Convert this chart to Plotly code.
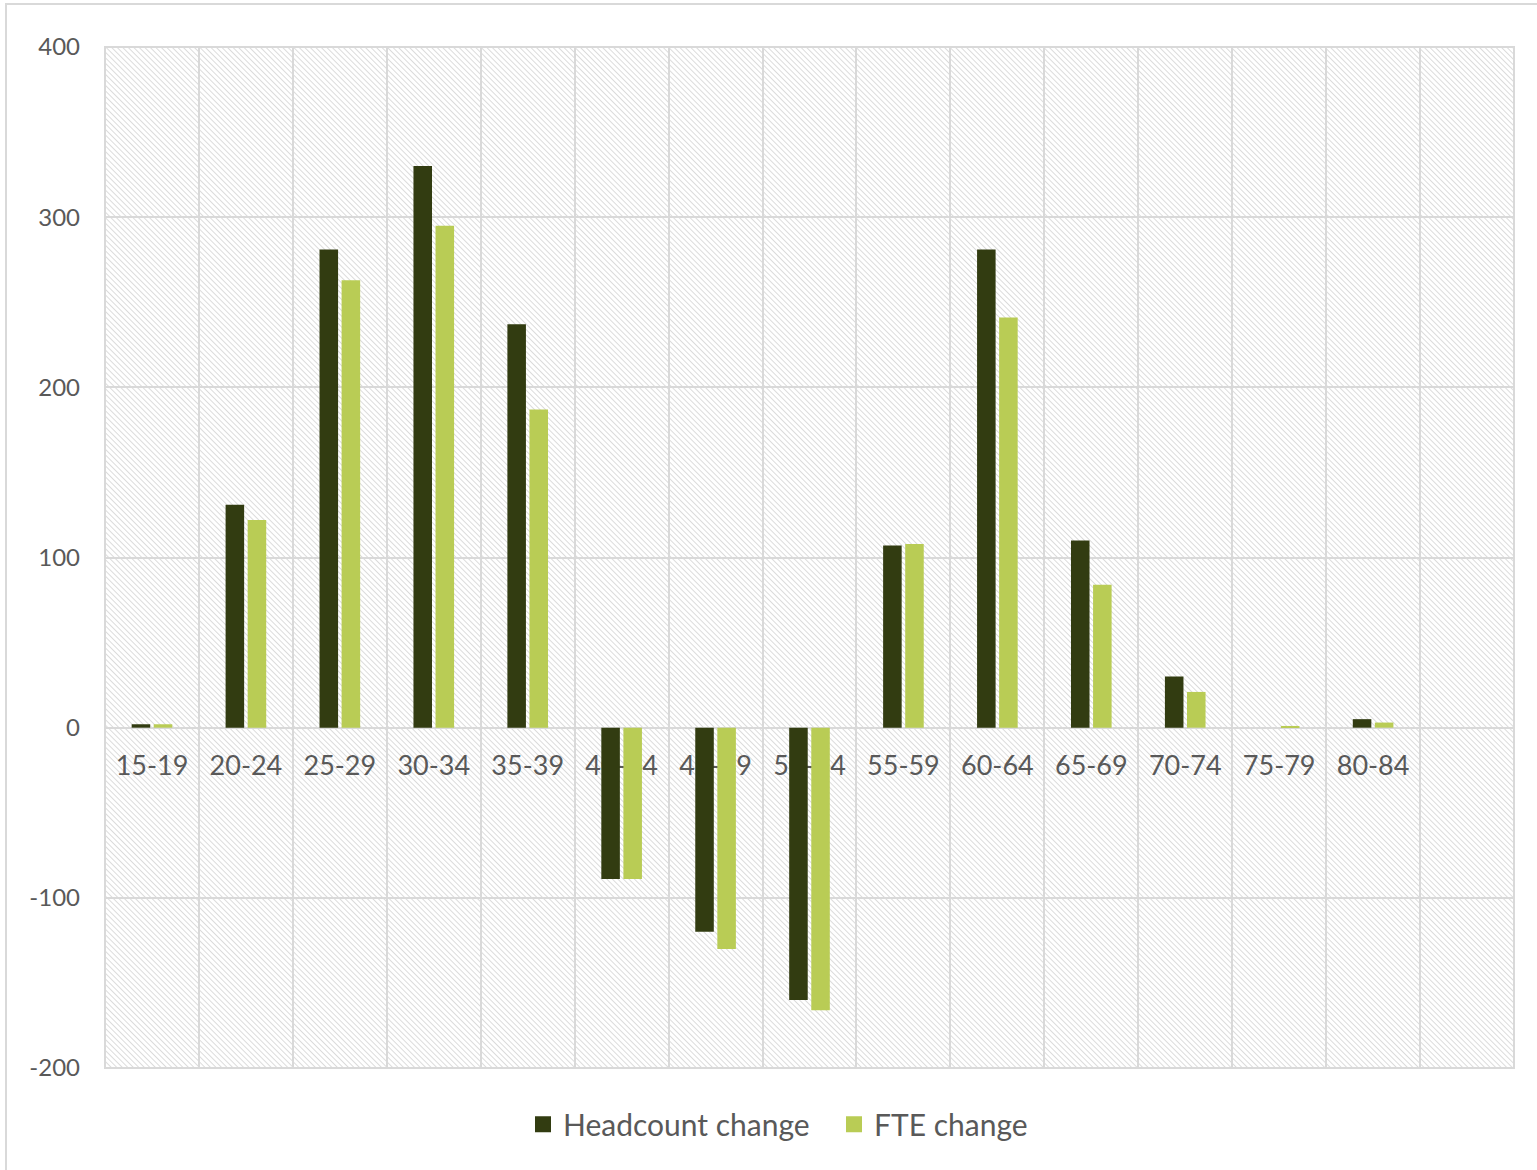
import base64
import plotly.graph_objects as go

# Age bands (the last band is an empty slot at the right of the chart)
age_groups = ["15-19", "20-24", "25-29", "30-34", "35-39", "40-44", "45-49",
              "50-54", "55-59", "60-64", "65-69", "70-74", "75-79", "80-84", " "]
headcount_change = [2, 131, 281, 330, 237, -89, -120, -160, 107, 281, 110, 30, 0, 5, None]
fte_change = [2, 122, 263, 295, 187, -89, -130, -166, 108, 241, 84, 21, 1, 3, None]
y_ticks = [-200, -100, 0, 100, 200, 300, 400]
y_tick_labels = ["-200", "-100", "0", "100", "200", "300", "400"]

DARK = "#323c11"
LIGHT = "#b9cc55"
GRID = "#d9d9d9"
TEXT = "#595959"
FONT = "Lato, 'Open Sans', sans-serif"

W, H = 1537, 1170
ML, MR, MT, MB = 105, 23, 47, 102
PW, PH = W - ML - MR, H - MT - MB

# Diagonal hatch used as the plot-area background
hatch_svg = f"""<svg xmlns='http://www.w3.org/2000/svg' width='{PW}' height='{PH}' viewBox='0 0 {PW} {PH}' preserveAspectRatio='none'>
<defs><pattern id='h' width='3.9' height='3.9' patternUnits='userSpaceOnUse' patternTransform='rotate(-45)'>
<rect width='3.9' height='3.9' fill='white'/>
<line x1='0' y1='0' x2='0' y2='3.9' stroke='#d6d6d6' stroke-width='1.7'/></pattern></defs>
<rect width='100%' height='100%' fill='url(#h)'/></svg>"""
hatch_uri = "data:image/svg+xml;base64," + base64.b64encode(hatch_svg.encode()).decode()

fig = go.Figure()
fig.add_trace(go.Bar(x=age_groups, y=headcount_change, name="Headcount change",
                     marker=dict(color=DARK, line=dict(width=0)), showlegend=False))
fig.add_trace(go.Bar(x=age_groups, y=fte_change, name="FTE change",
                     marker=dict(color=LIGHT, line=dict(width=0)), showlegend=False))

# Legend entries with larger square swatches, one legend box each
for name, col, lg in [("Headcount change", DARK, "legend"), ("FTE change", LIGHT, "legend2")]:
    fig.add_trace(go.Scatter(x=[None], y=[None], mode="markers", name=name, legend=lg,
                             marker=dict(symbol="square", size=16, color=col)))

ymin, ymax = y_ticks[0], y_ticks[-1]
zero_pos = (0 - ymin) / (ymax - ymin)

legend_common = dict(orientation="h", y=-0.055, yanchor="middle", xanchor="left",
                     font=dict(size=30, color=TEXT), itemwidth=30,
                     bgcolor="rgba(0,0,0,0)")

fig.update_layout(
    width=W, height=H,
    margin=dict(l=ML, r=MR, t=MT, b=MB, pad=0),
    paper_bgcolor="white", plot_bgcolor="white",
    barmode="group", bargap=0.53, bargroupgap=0.16,
    font=dict(family=FONT, color=TEXT),
    showlegend=True,
    legend=dict(x=(523 - ML) / PW, **legend_common),
    legend2=dict(x=(834 - ML) / PW, **legend_common),
    xaxis=dict(type="category", range=[-0.5, len(age_groups) - 0.5],
               anchor="free", position=zero_pos,
               tickson="boundaries", showgrid=True, gridcolor=GRID, gridwidth=1.5,
               showline=False, ticks="", ticklabelstandoff=19,
               tickfont=dict(size=27, color=TEXT), layer="below traces",
               fixedrange=True),
    yaxis=dict(range=[ymin, ymax], tickvals=y_ticks, ticktext=y_tick_labels,
               showgrid=True, gridcolor=GRID, gridwidth=1.5, zeroline=True,
               zerolinecolor=GRID, zerolinewidth=1.5, showline=False, ticks="",
               ticklabelstandoff=24, tickfont=dict(size=24, color=TEXT),
               domain=[0, 1]),
    images=[dict(source=hatch_uri, xref="paper", yref="paper", x=0, y=1,
                 sizex=1, sizey=1, xanchor="left", yanchor="top",
                 sizing="stretch", layer="below")],
    shapes=[
        # plot-area frame
        dict(type="rect", xref="paper", yref="paper", x0=0, y0=0, x1=1, y1=1,
             line=dict(color=GRID, width=2), layer="above"),
        # chart frame (top and left edges)
        dict(type="line", xref="paper", yref="paper",
             x0=(5 - ML) / PW, x1=(W + 10 - ML) / PW,
             y0=(PH + MT - 4) / PH, y1=(PH + MT - 4) / PH,
             line=dict(color="#d9d9d9", width=2)),
        dict(type="line", xref="paper", yref="paper",
             x0=(6 - ML) / PW, x1=(6 - ML) / PW,
             y0=(PH + MT - 4) / PH, y1=-(MB + 10) / PH,
             line=dict(color="#d9d9d9", width=2)),
    ],
)

fig.write_html("out.html")
